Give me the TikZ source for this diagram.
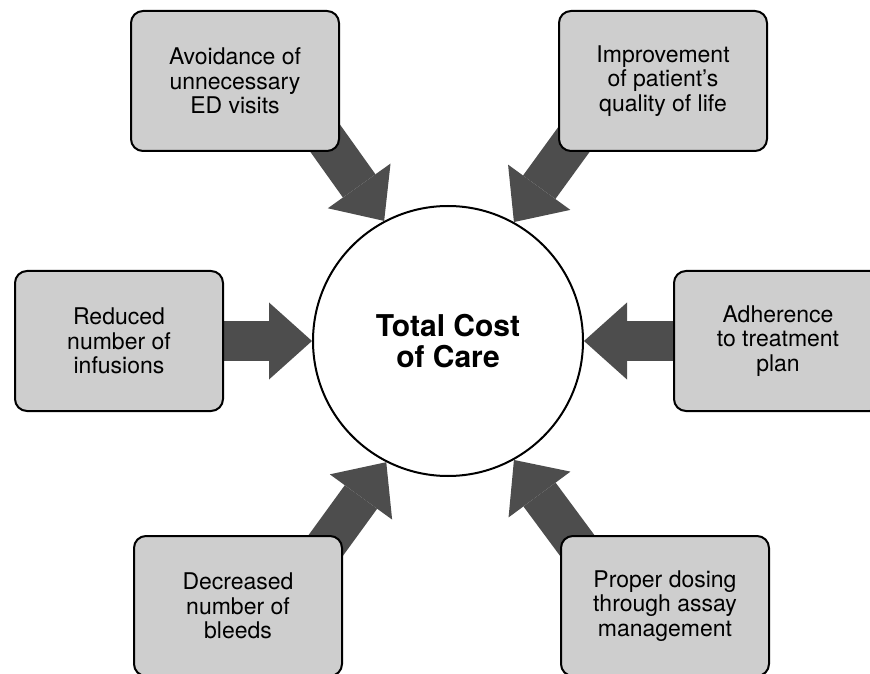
\documentclass[tikz,border=0pt]{standalone}
\usepackage{fontspec}
\setmainfont{TeX Gyre Heros}
\usetikzlibrary{arrows.meta,backgrounds}
\definecolor{boxgray}{RGB}{206,206,206}
\definecolor{arrowgray}{RGB}{77,77,77}
\tikzset{
  block/.style = {draw, line width=2pt, rounded corners=12pt, fill=boxgray,
    minimum width=208pt, minimum height=140pt, align=center,
    font=\fontsize{23}{24.5}\selectfont},
  hub/.style = {draw, circle, line width=2pt, fill=white, minimum size=270pt,
    align=center, font=\bfseries\fontsize{30}{31}\selectfont},
  fat/.style = {draw=arrowgray, line width=40pt,
    -{Triangle[length=43pt,width=77pt,line width=0pt]}}
}

\begin{document}
\begin{tikzpicture}[x=1pt,y=1pt]
\useasboundingbox (0,0) rectangle (870,673);
\clip (0,0) rectangle (870,673);
\node[hub] (cost) at (448,332) {Total Cost\\of Care};
\node[block] (visits) at (235,592) {Avoidance of\\unnecessary\\ED visits};
\node[block] (quality) at (663,592) {Improvement\\of patient’s\\quality of life};
\node[block] (infusions) at (119,332) {Reduced\\number of\\infusions};
\node[block] (adherence) at (778,332) {Adherence\\to treatment\\plan};
\node[block] (bleeds) at (238,67) {Decreased\\number of\\bleeds};
\node[block] (dosing) at (665,67) {Proper dosing\\through assay\\management};
\begin{scope}[on background layer]
\path (cost.118) ++(125.5:150) coordinate (visits-tail);
\path (cost.61) ++(54:150) coordinate (quality-tail);
\path (cost.243) ++(234:150) coordinate (bleeds-tail);
\path (cost.299) ++(-53.5:150) coordinate (dosing-tail);
\draw[fat] (visits-tail) -- (cost.118);
\draw[fat] (quality-tail) -- (cost.61);
\draw[fat] (infusions) -- (cost);
\draw[fat] (adherence) -- (cost);
\draw[fat] (bleeds-tail) -- (cost.243);
\draw[fat] (dosing-tail) -- (cost.299);
\end{scope}
\end{tikzpicture}
\end{document}
